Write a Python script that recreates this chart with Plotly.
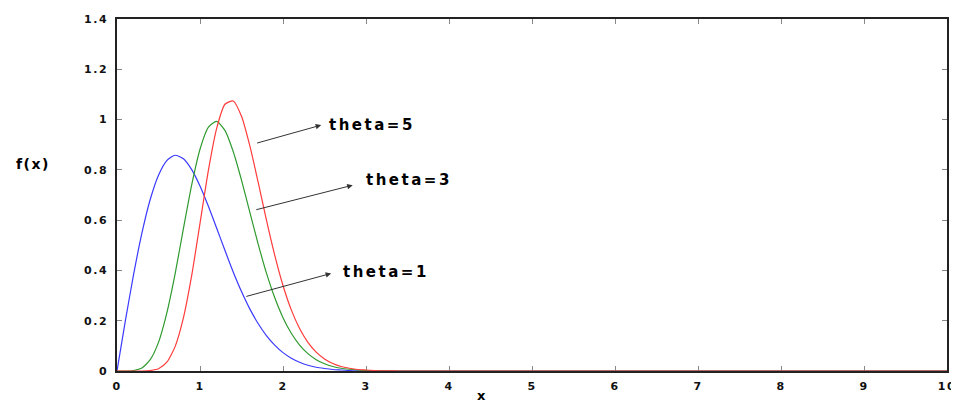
import plotly.graph_objects as go

# ---- data ----
x_vals = [0.0, 0.1, 0.2, 0.3, 0.4, 0.5, 0.6, 0.7, 0.8, 0.9,
          1.0, 1.1, 1.2, 1.3, 1.4, 1.5, 1.6, 1.7, 1.8, 1.9,
          2.0, 2.1, 2.2, 2.3, 2.4, 2.5, 2.6, 2.7, 2.8, 2.9,
          3.0, 3.1, 3.2, 3.3, 3.4, 10.0]

theta1 = [0.0, 0.198, 0.384, 0.548, 0.682, 0.779, 0.837, 0.858, 0.844, 0.801,
          0.736, 0.656, 0.569, 0.480, 0.394, 0.316, 0.247, 0.189, 0.141, 0.103,
          0.073, 0.051, 0.035, 0.023, 0.015, 0.010, 0.006, 0.004, 0.002, 0.001,
          0.001, 0.0, 0.0, 0.0, 0.0, 0.0]

theta3 = [0.0, 0.0, 0.002, 0.012, 0.045, 0.114, 0.230, 0.386, 0.566, 0.740,
          0.882, 0.969, 0.993, 0.957, 0.873, 0.759, 0.632, 0.506, 0.390, 0.292,
          0.212, 0.150, 0.103, 0.069, 0.045, 0.029, 0.018, 0.011, 0.007, 0.004,
          0.002, 0.001, 0.001, 0.0, 0.0, 0.0]

theta5 = [0.0, 0.0, 0.0, 0.0, 0.002, 0.009, 0.035, 0.097, 0.211, 0.380,
          0.587, 0.796, 0.964, 1.061, 1.074, 1.013, 0.896, 0.752, 0.601, 0.461,
          0.340, 0.243, 0.169, 0.114, 0.075, 0.048, 0.030, 0.018, 0.011, 0.006,
          0.004, 0.002, 0.001, 0.001, 0.0, 0.0]

x_ticks = [0, 1, 2, 3, 4, 5, 6, 7, 8, 9, 10]
x_tick_labels = ['0', '1', '2', '3', '4', '5', '6', '7', '8', '9', '10']
y_ticks = [0, 0.2, 0.4, 0.6, 0.8, 1.0, 1.2, 1.4]
y_tick_labels = ['0', '0.2', '0.4', '0.6', '0.8', '1', '1.2', '1.4']

labels = ['theta=1', 'theta=3', 'theta=5']
# arrow tail (on curve), arrow head, text anchor  (data coordinates)
arrow_tail = [(1.54, 0.295), (1.66, 0.640), (1.67, 0.905)]
arrow_head = [(2.58, 0.388), (2.84, 0.739), (2.46, 0.978)]
text_pos = [(2.70, 0.394), (2.98, 0.759), (2.53, 0.978)]

colors = ['#3a3aff', '#2f9a2f', '#ff3b3b']

FONT = 'DejaVu Sans'


def spaced(t, px):
    return f'<span style="letter-spacing:{px}px">{t}</span>'


fig = go.Figure()
for ys, c, name in zip([theta1, theta3, theta5], colors, labels):
    fig.add_trace(go.Scatter(x=x_vals, y=ys, mode='lines', name=name,
                             line=dict(color=c, width=1.2, shape='spline',
                                       smoothing=0.6)))

annotations = []
for (tx, ty), (hx, hy), (px, py), lab in zip(arrow_tail, arrow_head, text_pos, labels):
    annotations.append(dict(x=hx, y=hy, ax=tx, ay=ty, xref='x', yref='y',
                            axref='x', ayref='y', text='', showarrow=True,
                            arrowhead=2, arrowsize=1.1, arrowwidth=1,
                            arrowcolor='#333333'))
    annotations.append(dict(x=px, y=py, xref='x', yref='y', text=spaced(lab, 2.5),
                            showarrow=False, xanchor='left', yanchor='middle',
                            font=dict(family=FONT, size=15, color='black',
                                      weight='bold')))

annotations.append(dict(x=-0.101, y=0.588, xref='paper', yref='paper',
                        text=spaced('f(x)', 1.5), showarrow=False,
                        xanchor='center', yanchor='middle',
                        font=dict(family=FONT, size=14, color='black', weight='bold')))
annotations.append(dict(x=0.4386, y=-0.069, xref='paper', yref='paper',
                        text='x', showarrow=False,
                        xanchor='center', yanchor='middle',
                        font=dict(family=FONT, size=13, color='black', weight='bold')))

axis_common = dict(showgrid=False, zeroline=False, showline=True,
                   linecolor='#222222', linewidth=1.5, mirror='ticks',
                   ticks='inside', ticklen=5, tickcolor='#888888',
                   tickwidth=1, layer='below traces', ticklabeloverflow='allow',
                   automargin=False,
                   tickfont=dict(family=FONT, size=11, color='#111111',
                                 weight='bold'))

# the page body adds an 8px offset and the figure fits a 943px-wide container
fig.update_layout(
    width=943, height=395,
    margin=dict(l=109, r=4, t=11, b=32.3, pad=0, autoexpand=False),
    paper_bgcolor='white', plot_bgcolor='white',
    showlegend=False,
    annotations=annotations,
    xaxis=dict(range=[0, 10], tickmode='array', tickvals=x_ticks,
               ticktext=[spaced(t, 1.5) for t in x_tick_labels],
               ticklabelstandoff=4, **axis_common),
    yaxis=dict(range=[0, 1.4], tickmode='array', tickvals=y_ticks,
               ticktext=[spaced(t, 1.5) for t in y_tick_labels],
               ticklabelstandoff=5, **axis_common),
)

post = ("document.querySelectorAll('svg.main-svg, .svg-container, .plotly-graph-div')"
        ".forEach(function(s){s.style.overflow='visible';});")

fig.write_html('out.html', post_script=post, config={'displayModeBar': False})
